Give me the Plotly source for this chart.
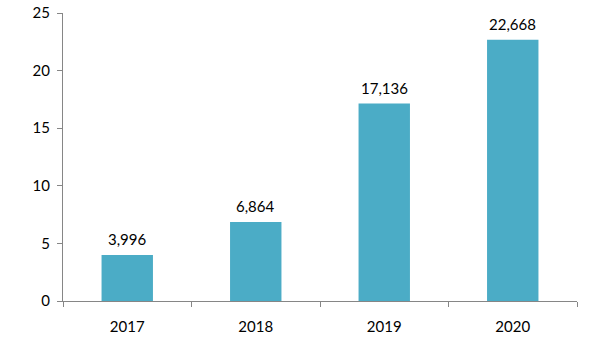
import plotly.graph_objects as go

years = ["2017", "2018", "2019", "2020"]
values = [3.996, 6.864, 17.136, 22.668]
labels = ["3,996", "6,864", "17,136", "22,668"]
y_ticks = [0, 5, 10, 15, 20, 25]

FONT = "Lato"
axis_color = "#868686"

fig = go.Figure(go.Bar(
    x=years, y=values,
    marker=dict(color="#4BACC6", line=dict(width=0)),
    width=0.4,
))

for i, (v, lab) in enumerate(zip(values, labels)):
    fig.add_annotation(
        x=i, y=v, text=lab, showarrow=False, yanchor="bottom", yshift=5,
        font=dict(family=FONT, size=15, color="#000000"),
    )

fig.update_layout(
    width=597, height=351,
    margin=dict(l=63, r=20, t=13, b=50, autoexpand=False),
    paper_bgcolor="white", plot_bgcolor="white",
    showlegend=False,
    font=dict(family=FONT, size=15, color="#000000"),
    xaxis=dict(
        type="category", categoryorder="array", categoryarray=years,
        range=[-0.5, len(years) - 0.5],
        tickson="boundaries", ticks="outside", ticklen=5, tickangle=0,
        tickcolor=axis_color, showline=True, linecolor=axis_color, linewidth=1,
        showgrid=False, tickfont=dict(family=FONT, size=15),
        ticklabelstandoff=12, automargin=False,
    ),
    yaxis=dict(
        range=[0, 25], tickvals=y_ticks, ticks="outside", ticklen=5,
        tickcolor=axis_color, showline=True, linecolor=axis_color, linewidth=1,
        showgrid=False, zeroline=False, tickfont=dict(family=FONT, size=15),
        ticklabelstandoff=4, automargin=False,
    ),
)

fig.write_html("out.html")
